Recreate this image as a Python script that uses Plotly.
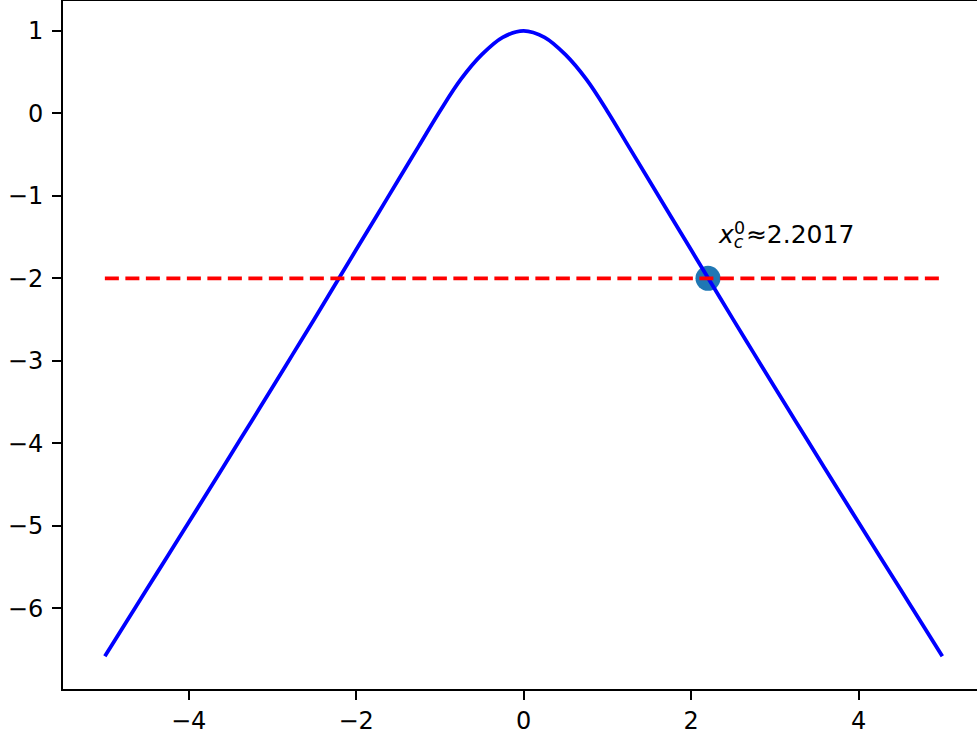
import plotly.graph_objects as go

# Curve samples for x >= 0 on a 0.25 grid (the curve is symmetric about x = 0)
x_right = [0.0, 0.25, 0.5, 0.75, 1.0, 1.25, 1.5, 1.75, 2.0, 2.25, 2.5, 2.75, 3.0,
           3.25, 3.5, 3.75, 4.0, 4.25, 4.5, 4.75, 5.0]
y_right = [1.0, 0.92, 0.71, 0.41, 0.025, -0.395, -0.815, -1.235, -1.655, -2.075, -2.495, -2.91, -3.325,
           -3.735, -4.145, -4.555, -4.96, -5.365, -5.77, -6.175, -6.58]

curve_x = [-v for v in reversed(x_right[1:])] + x_right
curve_y = list(reversed(y_right[1:])) + y_right

# Horizontal level and the crossing point
level = -2.0
level_x = [-5.0, 5.0]
x_cross = 2.2017

x_ticks = [-4, -2, 0, 2, 4]
y_ticks = [-6, -5, -4, -3, -2, -1, 0, 1]


def tick_text(vals):
    return [str(v).replace("-", "\u2212") for v in vals]


FONT = "DejaVu Sans"

fig = go.Figure()

# crossing marker (drawn underneath the lines)
fig.add_trace(go.Scatter(
    x=[x_cross], y=[level], mode="markers",
    marker=dict(size=25, color="#1f77b4", line=dict(width=0)),
    hoverinfo="skip", showlegend=False,
))

fig.add_trace(go.Scatter(
    x=curve_x, y=curve_y, mode="lines",
    line=dict(color="blue", width=3.8, shape="spline", smoothing=1.0),
    showlegend=False,
))

fig.add_trace(go.Scatter(
    x=level_x, y=[level, level], mode="lines",
    line=dict(color="red", width=3.8, dash="14px,6.5px"),
    showlegend=False,
))

label_value = f"{x_cross:.4f}"
fig.add_annotation(
    x=x_cross + 0.1, y=level + 0.4, xref="x", yref="y",
    text=f"<i>x</i><sub><i>c</i></sub>\u200a\u2248{label_value}",
    showarrow=False, xanchor="left", yanchor="bottom", yshift=-9,
    font=dict(family=FONT, size=25, color="black"),
)
fig.add_annotation(
    x=x_cross + 0.1, y=level + 0.4, xref="x", yref="y",
    text="0", xshift=16, yshift=5,
    showarrow=False, xanchor="left", yanchor="bottom",
    font=dict(family=FONT, size=17.5, color="black"),
)

axis_common = dict(
    showgrid=False, zeroline=False, showline=True, automargin=False,
    linecolor="black", linewidth=2,
    ticks="outside", ticklen=9, tickwidth=2, tickcolor="black",
    tickfont=dict(family=FONT, size=24, color="black"),
)

fig.update_xaxes(
    range=[-5.5, 5.414], tickmode="array", tickvals=x_ticks,
    ticktext=tick_text(x_ticks), mirror=True, ticklabelstandoff=0, **axis_common,
)
fig.update_yaxes(
    range=[-6.978, 1.361], tickmode="array", tickvals=y_ticks,
    ticktext=tick_text(y_ticks), mirror=False, ticklabelstandoff=4, **axis_common,
)

fig.update_layout(
    width=977, height=733,
    margin=dict(l=63, r=0, t=1, b=44),
    paper_bgcolor="white", plot_bgcolor="white",
    font=dict(family=FONT, color="black"),
)

fig.write_html("out.html")
